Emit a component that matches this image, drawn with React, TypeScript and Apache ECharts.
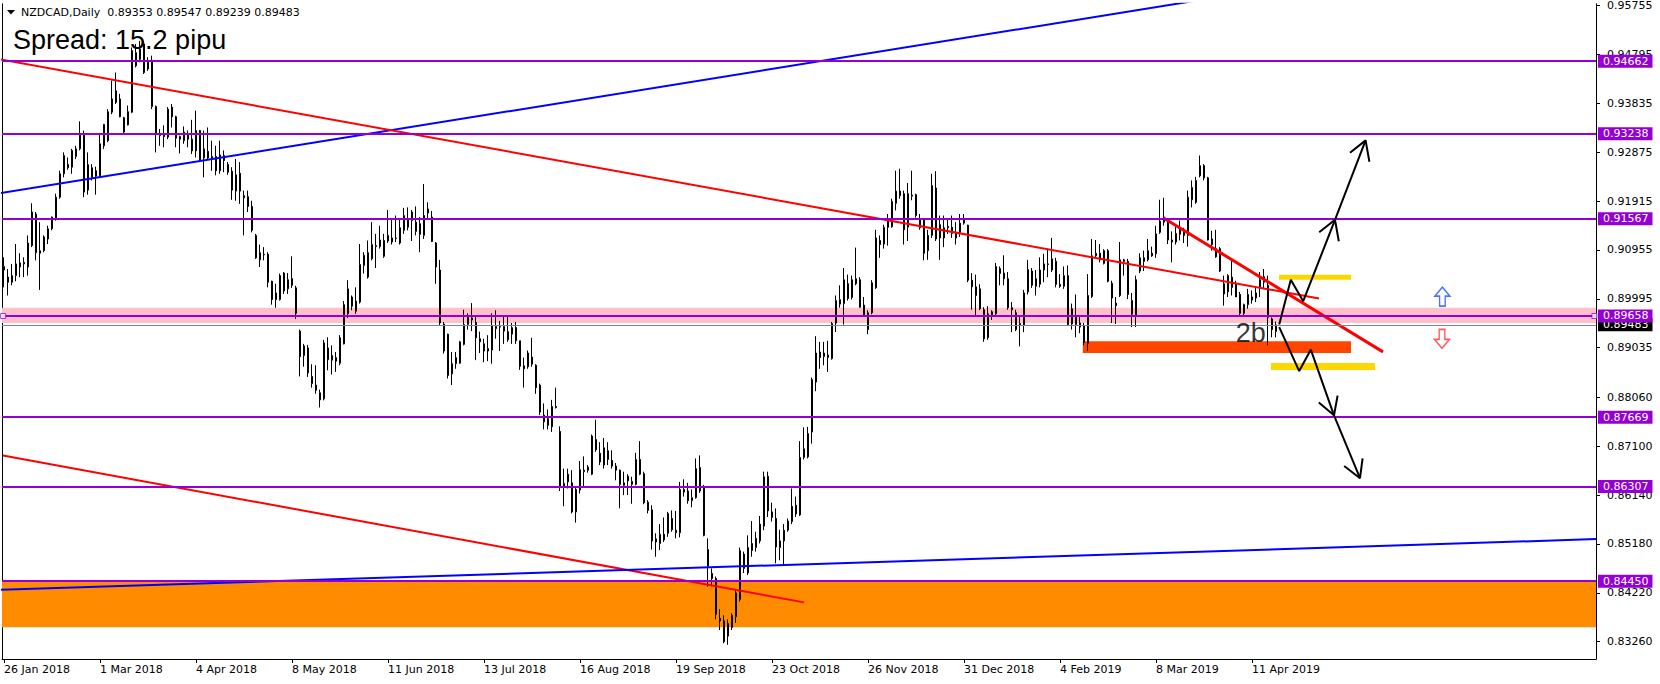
import React, { useEffect, useRef } from 'react';
import * as echarts from 'echarts';

// x-axis date labels (every 24 bars)
const dateLabels = ['26 Jan 2018', '1 Mar 2018', '4 Apr 2018', '8 May 2018', '11 Jun 2018', '13 Jul 2018', '16 Aug 2018', '19 Sep 2018', '23 Oct 2018', '26 Nov 2018', '31 Dec 2018', '4 Feb 2019', '8 Mar 2019', '11 Apr 2019'];
const dateLabelBars = [0, 24, 48, 72, 96, 120, 144, 168, 192, 216, 240, 264, 288, 312];

// right price scale labels
const priceTicks = [0.95755, 0.94795, 0.93835, 0.92875, 0.91915, 0.90955, 0.89995, 0.89035, 0.8806, 0.871, 0.8614, 0.8518, 0.8422, 0.8326];

// horizontal levels
const levels = [0.94662, 0.93238, 0.91567, 0.89658, 0.87669, 0.86307, 0.8445];
const bidPrice = 0.89483;

// daily candles [open, close, low, high]
const ohlc = [
  [0.9056, 0.9063, 0.9022, 0.9081], [0.9042, 0.9032, 0.9006, 0.9058], [0.9032, 0.9045, 0.9026, 0.9068], [0.9045, 0.9068, 0.9034, 0.9107],
  [0.9062, 0.9070, 0.9042, 0.9089], [0.9068, 0.9071, 0.9042, 0.9081], [0.9062, 0.9109, 0.9045, 0.9124], [0.9104, 0.9170, 0.9101, 0.9187],
  [0.9166, 0.9090, 0.9075, 0.9170], [0.9089, 0.9094, 0.9017, 0.9150], [0.9094, 0.9121, 0.9091, 0.9124], [0.9117, 0.9137, 0.9107, 0.9143],
  [0.9137, 0.9160, 0.9134, 0.9161], [0.9156, 0.9199, 0.9153, 0.9206], [0.9199, 0.9245, 0.9196, 0.9251], [0.9245, 0.9281, 0.9238, 0.9287],
  [0.9263, 0.9257, 0.9253, 0.9277], [0.9258, 0.9291, 0.9245, 0.9294], [0.9279, 0.9294, 0.9274, 0.9300], [0.9294, 0.9323, 0.9291, 0.9348],
  [0.9323, 0.9209, 0.9199, 0.9330], [0.9213, 0.9263, 0.9204, 0.9287], [0.9238, 0.9257, 0.9232, 0.9264], [0.9240, 0.9251, 0.9204, 0.9259],
  [0.9241, 0.9304, 0.9238, 0.9322], [0.9300, 0.9342, 0.9294, 0.9343], [0.9310, 0.9367, 0.9307, 0.9372], [0.9366, 0.9392, 0.9362, 0.9428],
  [0.9385, 0.9408, 0.9382, 0.9444], [0.9392, 0.9357, 0.9356, 0.9402], [0.9355, 0.9327, 0.9322, 0.9357], [0.9341, 0.9367, 0.9340, 0.9379],
  [0.9366, 0.9487, 0.9364, 0.9493], [0.9457, 0.9483, 0.9454, 0.9500], [0.9490, 0.9470, 0.9464, 0.9506], [0.9500, 0.9444, 0.9441, 0.9506],
  [0.9464, 0.9451, 0.9447, 0.9474], [0.9468, 0.9377, 0.9372, 0.9477], [0.9377, 0.9323, 0.9287, 0.9379], [0.9320, 0.9323, 0.9300, 0.9333],
  [0.9322, 0.9318, 0.9297, 0.9340], [0.9317, 0.9372, 0.9313, 0.9376], [0.9376, 0.9357, 0.9336, 0.9382], [0.9357, 0.9315, 0.9297, 0.9359],
  [0.9318, 0.9313, 0.9285, 0.9320], [0.9310, 0.9327, 0.9304, 0.9338], [0.9323, 0.9313, 0.9297, 0.9330], [0.9313, 0.9290, 0.9284, 0.9351],
  [0.9290, 0.9330, 0.9277, 0.9369], [0.9330, 0.9270, 0.9268, 0.9331], [0.9276, 0.9294, 0.9238, 0.9330], [0.9289, 0.9276, 0.9274, 0.9336],
  [0.9274, 0.9279, 0.9251, 0.9310], [0.9279, 0.9251, 0.9242, 0.9300], [0.9251, 0.9282, 0.9245, 0.9310], [0.9281, 0.9271, 0.9248, 0.9291],
  [0.9263, 0.9248, 0.9243, 0.9268], [0.9250, 0.9213, 0.9194, 0.9258], [0.9211, 0.9243, 0.9192, 0.9274], [0.9246, 0.9211, 0.9186, 0.9268],
  [0.9202, 0.9198, 0.9124, 0.9212], [0.9200, 0.9181, 0.9170, 0.9212], [0.9181, 0.9134, 0.9130, 0.9192], [0.9124, 0.9080, 0.9078, 0.9127],
  [0.9076, 0.9090, 0.9062, 0.9106], [0.9086, 0.9087, 0.9075, 0.9101], [0.9087, 0.9032, 0.9022, 0.9091], [0.9034, 0.8998, 0.8988, 0.9035],
  [0.8998, 0.9011, 0.8982, 0.9029], [0.8998, 0.9045, 0.8996, 0.9049], [0.9050, 0.9015, 0.9009, 0.9052], [0.9019, 0.9037, 0.9009, 0.9050],
  [0.9039, 0.9026, 0.9021, 0.9083], [0.9021, 0.8971, 0.8960, 0.9025], [0.8936, 0.8886, 0.8847, 0.8939], [0.8888, 0.8907, 0.8866, 0.8911],
  [0.8903, 0.8854, 0.8846, 0.8909], [0.8847, 0.8833, 0.8825, 0.8871], [0.8830, 0.8820, 0.8813, 0.8869], [0.8815, 0.8801, 0.8786, 0.8821],
  [0.8803, 0.8913, 0.8800, 0.8919], [0.8903, 0.8880, 0.8859, 0.8924], [0.8888, 0.8879, 0.8851, 0.8908], [0.8884, 0.8877, 0.8856, 0.8895],
  [0.8873, 0.8923, 0.8869, 0.8928], [0.8911, 0.8988, 0.8910, 0.8995], [0.8970, 0.9019, 0.8962, 0.9036], [0.9003, 0.8985, 0.8977, 0.9006],
  [0.8975, 0.8995, 0.8970, 0.9022], [0.8993, 0.9067, 0.8990, 0.9107], [0.9065, 0.9085, 0.9049, 0.9091], [0.9042, 0.9090, 0.9039, 0.9114],
  [0.9078, 0.9106, 0.9075, 0.9150], [0.9104, 0.9102, 0.9060, 0.9127], [0.9102, 0.9115, 0.9098, 0.9143], [0.9114, 0.9083, 0.9080, 0.9127],
  [0.9113, 0.9124, 0.9109, 0.9174], [0.9111, 0.9119, 0.9106, 0.9157], [0.9118, 0.9119, 0.9111, 0.9163], [0.9109, 0.9139, 0.9106, 0.9157],
  [0.9134, 0.9163, 0.9127, 0.9178], [0.9140, 0.9157, 0.9134, 0.9179], [0.9153, 0.9170, 0.9113, 0.9174], [0.9150, 0.9132, 0.9124, 0.9181],
  [0.9126, 0.9147, 0.9091, 0.9160], [0.9124, 0.9163, 0.9117, 0.9225], [0.9176, 0.9168, 0.9157, 0.9189], [0.9160, 0.9112, 0.9111, 0.9172],
  [0.9109, 0.9062, 0.9029, 0.9111], [0.9056, 0.8952, 0.8947, 0.9076], [0.8950, 0.8897, 0.8892, 0.8954], [0.8930, 0.8849, 0.8843, 0.8931],
  [0.8852, 0.8872, 0.8830, 0.8895], [0.8872, 0.8884, 0.8862, 0.8895], [0.8873, 0.8915, 0.8872, 0.8917], [0.8910, 0.8949, 0.8908, 0.8978],
  [0.8949, 0.8964, 0.8939, 0.8971], [0.8958, 0.8962, 0.8936, 0.8991], [0.8953, 0.8923, 0.8879, 0.8964], [0.8921, 0.8915, 0.8893, 0.8935],
  [0.8911, 0.8897, 0.8875, 0.8921], [0.8897, 0.8902, 0.8877, 0.8928], [0.8899, 0.8947, 0.8872, 0.8971], [0.8941, 0.8945, 0.8921, 0.8977],
  [0.8944, 0.8945, 0.8897, 0.8956], [0.8936, 0.8945, 0.8911, 0.8966], [0.8919, 0.8935, 0.8915, 0.8966], [0.8930, 0.8943, 0.8911, 0.8952],
  [0.8943, 0.8917, 0.8911, 0.8954], [0.8917, 0.8867, 0.8860, 0.8917], [0.8862, 0.8868, 0.8825, 0.8884], [0.8866, 0.8893, 0.8862, 0.8898],
  [0.8885, 0.8871, 0.8866, 0.8923], [0.8869, 0.8825, 0.8813, 0.8871], [0.8830, 0.8777, 0.8771, 0.8833], [0.8771, 0.8758, 0.8743, 0.8794],
  [0.8764, 0.8751, 0.8743, 0.8782], [0.8748, 0.8788, 0.8738, 0.8801], [0.8788, 0.8786, 0.8784, 0.8825], [0.8739, 0.8629, 0.8622, 0.8749],
  [0.8629, 0.8637, 0.8592, 0.8666], [0.8640, 0.8655, 0.8627, 0.8666], [0.8638, 0.8581, 0.8578, 0.8663], [0.8581, 0.8625, 0.8560, 0.8630],
  [0.8624, 0.8664, 0.8617, 0.8681], [0.8660, 0.8663, 0.8631, 0.8690], [0.8669, 0.8663, 0.8658, 0.8673], [0.8655, 0.8730, 0.8653, 0.8733],
  [0.8723, 0.8703, 0.8699, 0.8762], [0.8696, 0.8679, 0.8673, 0.8718], [0.8673, 0.8707, 0.8666, 0.8726], [0.8701, 0.8684, 0.8673, 0.8718],
  [0.8682, 0.8671, 0.8666, 0.8702], [0.8671, 0.8663, 0.8643, 0.8677], [0.8663, 0.8635, 0.8588, 0.8664], [0.8633, 0.8638, 0.8614, 0.8660],
  [0.8651, 0.8642, 0.8614, 0.8655], [0.8635, 0.8641, 0.8597, 0.8650], [0.8635, 0.8684, 0.8633, 0.8697], [0.8684, 0.8655, 0.8653, 0.8720],
  [0.8656, 0.8599, 0.8596, 0.8660], [0.8600, 0.8584, 0.8578, 0.8604], [0.8585, 0.8524, 0.8507, 0.8594], [0.8528, 0.8522, 0.8493, 0.8539],
  [0.8519, 0.8537, 0.8506, 0.8557], [0.8537, 0.8526, 0.8522, 0.8570], [0.8539, 0.8578, 0.8532, 0.8581], [0.8568, 0.8546, 0.8542, 0.8584],
  [0.8540, 0.8545, 0.8529, 0.8583], [0.8540, 0.8625, 0.8531, 0.8640], [0.8625, 0.8620, 0.8611, 0.8645], [0.8622, 0.8603, 0.8597, 0.8638],
  [0.8603, 0.8609, 0.8590, 0.8625], [0.8609, 0.8666, 0.8607, 0.8686], [0.8668, 0.8622, 0.8618, 0.8692], [0.8630, 0.8535, 0.8533, 0.8634],
  [0.8507, 0.8475, 0.8434, 0.8529], [0.8460, 0.8450, 0.8435, 0.8470], [0.8450, 0.8380, 0.8370, 0.8454], [0.8372, 0.8367, 0.8349, 0.8390],
  [0.8367, 0.8326, 0.8323, 0.8378], [0.8337, 0.8362, 0.8320, 0.8370], [0.8354, 0.8378, 0.8349, 0.8382], [0.8375, 0.8422, 0.8363, 0.8429],
  [0.8409, 0.8505, 0.8405, 0.8511], [0.8498, 0.8470, 0.8461, 0.8503], [0.8461, 0.8511, 0.8457, 0.8535], [0.8505, 0.8519, 0.8493, 0.8563],
  [0.8511, 0.8529, 0.8503, 0.8542], [0.8524, 0.8557, 0.8519, 0.8573], [0.8553, 0.8650, 0.8545, 0.8660], [0.8651, 0.8583, 0.8571, 0.8660],
  [0.8581, 0.8570, 0.8562, 0.8599], [0.8568, 0.8512, 0.8480, 0.8588], [0.8511, 0.8524, 0.8486, 0.8546], [0.8524, 0.8545, 0.8477, 0.8557],
  [0.8545, 0.8563, 0.8542, 0.8568], [0.8562, 0.8592, 0.8557, 0.8627], [0.8594, 0.8577, 0.8571, 0.8611], [0.8575, 0.8688, 0.8573, 0.8720],
  [0.8688, 0.8705, 0.8684, 0.8747], [0.8689, 0.8735, 0.8686, 0.8748], [0.8738, 0.8841, 0.8715, 0.8845], [0.8836, 0.8893, 0.8818, 0.8926],
  [0.8895, 0.8884, 0.8862, 0.8915], [0.8886, 0.8893, 0.8869, 0.8915], [0.8884, 0.8889, 0.8856, 0.8917], [0.8882, 0.8951, 0.8880, 0.8954],
  [0.8952, 0.8996, 0.8934, 0.9006], [0.8989, 0.8998, 0.8982, 0.9026], [0.8990, 0.9037, 0.8949, 0.9060], [0.9029, 0.9000, 0.8996, 0.9047],
  [0.9002, 0.9037, 0.8998, 0.9045], [0.9029, 0.9039, 0.9026, 0.9100], [0.9037, 0.8983, 0.8982, 0.9042], [0.8987, 0.8967, 0.8965, 0.9003],
  [0.8939, 0.8972, 0.8930, 0.8977], [0.8972, 0.9031, 0.8969, 0.9036], [0.9021, 0.9119, 0.9019, 0.9135], [0.9114, 0.9106, 0.9080, 0.9124],
  [0.9107, 0.9140, 0.9098, 0.9145], [0.9157, 0.9140, 0.9104, 0.9166], [0.9141, 0.9191, 0.9139, 0.9196], [0.9187, 0.9211, 0.9173, 0.9251],
  [0.9211, 0.9202, 0.9196, 0.9255], [0.9206, 0.9135, 0.9106, 0.9212], [0.9140, 0.9206, 0.9113, 0.9227], [0.9201, 0.9203, 0.9193, 0.9251],
  [0.9204, 0.9163, 0.9159, 0.9206], [0.9157, 0.9139, 0.9135, 0.9166], [0.9155, 0.9089, 0.9075, 0.9157], [0.9094, 0.9124, 0.9076, 0.9135],
  [0.9124, 0.9222, 0.9119, 0.9245], [0.9217, 0.9117, 0.9113, 0.9250], [0.9145, 0.9119, 0.9076, 0.9163], [0.9139, 0.9119, 0.9101, 0.9163],
  [0.9139, 0.9142, 0.9127, 0.9157], [0.9140, 0.9128, 0.9119, 0.9163], [0.9130, 0.9119, 0.9106, 0.9150], [0.9130, 0.9148, 0.9121, 0.9166],
  [0.9148, 0.9157, 0.9145, 0.9166], [0.9144, 0.9036, 0.9032, 0.9145], [0.9036, 0.9023, 0.8978, 0.9050], [0.9023, 0.9006, 0.8965, 0.9047],
  [0.9019, 0.8980, 0.8977, 0.9028], [0.8978, 0.8921, 0.8915, 0.8983], [0.8923, 0.8970, 0.8919, 0.8985], [0.8967, 0.8974, 0.8958, 0.8977],
  [0.8970, 0.9063, 0.8967, 0.9070], [0.9049, 0.9059, 0.9026, 0.9063], [0.9050, 0.9039, 0.9026, 0.9085], [0.9039, 0.8982, 0.8978, 0.9052],
  [0.8982, 0.8978, 0.8934, 0.8993], [0.8972, 0.8939, 0.8936, 0.8978], [0.8947, 0.8951, 0.8906, 0.8964], [0.8947, 0.9011, 0.8934, 0.9017],
  [0.9013, 0.9057, 0.9008, 0.9076], [0.9054, 0.9026, 0.9021, 0.9060], [0.9024, 0.9039, 0.9006, 0.9056], [0.9028, 0.9056, 0.9022, 0.9081],
  [0.9056, 0.9068, 0.9032, 0.9088], [0.9067, 0.9068, 0.9042, 0.9098], [0.9056, 0.9078, 0.9052, 0.9119], [0.9073, 0.9028, 0.9022, 0.9080],
  [0.9028, 0.9024, 0.9021, 0.9048], [0.9024, 0.9045, 0.9019, 0.9063], [0.9045, 0.8949, 0.8947, 0.9065], [0.8950, 0.8980, 0.8939, 0.8990],
  [0.8967, 0.8949, 0.8924, 0.9008], [0.8952, 0.8944, 0.8932, 0.8967], [0.8947, 0.8914, 0.8908, 0.8952], [0.8912, 0.9006, 0.8897, 0.9048],
  [0.9004, 0.9084, 0.9001, 0.9117], [0.9084, 0.9089, 0.9078, 0.9115], [0.9089, 0.9076, 0.9071, 0.9107], [0.9069, 0.9094, 0.9067, 0.9097],
  [0.9094, 0.9034, 0.9032, 0.9097], [0.9030, 0.9001, 0.8952, 0.9035], [0.8991, 0.8986, 0.8950, 0.9003], [0.9006, 0.9076, 0.9003, 0.9111],
  [0.9073, 0.9076, 0.9045, 0.9078], [0.9073, 0.9008, 0.8999, 0.9078], [0.8996, 0.8969, 0.8944, 0.9011], [0.8967, 0.9037, 0.8944, 0.9045],
  [0.9054, 0.9080, 0.9050, 0.9089], [0.9073, 0.9080, 0.9054, 0.9094], [0.9076, 0.9094, 0.9073, 0.9117], [0.9089, 0.9084, 0.9082, 0.9102],
  [0.9088, 0.9127, 0.9080, 0.9143], [0.9130, 0.9152, 0.9127, 0.9194], [0.9150, 0.9160, 0.9143, 0.9198], [0.9150, 0.9115, 0.9107, 0.9153],
  [0.9115, 0.9111, 0.9071, 0.9132], [0.9111, 0.9128, 0.9106, 0.9141], [0.9126, 0.9137, 0.9114, 0.9153], [0.9130, 0.9124, 0.9109, 0.9139],
  [0.9124, 0.9199, 0.9102, 0.9212], [0.9194, 0.9218, 0.9179, 0.9232], [0.9189, 0.9232, 0.9186, 0.9239], [0.9241, 0.9261, 0.9238, 0.9281],
  [0.9261, 0.9237, 0.9232, 0.9264], [0.9237, 0.9115, 0.9114, 0.9239], [0.9117, 0.9106, 0.9094, 0.9133], [0.9098, 0.9082, 0.9080, 0.9135],
  [0.9098, 0.9054, 0.9052, 0.9101], [0.9029, 0.9009, 0.8986, 0.9045], [0.9013, 0.9045, 0.9003, 0.9048], [0.9042, 0.9022, 0.9006, 0.9075],
  [0.9029, 0.9003, 0.9003, 0.9035], [0.9008, 0.8971, 0.8967, 0.9013], [0.8971, 0.8988, 0.8967, 0.8990], [0.8988, 0.9008, 0.8980, 0.9019],
  [0.8997, 0.9003, 0.8990, 0.9016], [0.9001, 0.9011, 0.8993, 0.9022], [0.9022, 0.9037, 0.9003, 0.9052], [0.9032, 0.9043, 0.9019, 0.9058],
  [0.9026, 0.8963, 0.8908, 0.9045], [0.8960, 0.8939, 0.8924, 0.8963], [0.89353, 0.89483, 0.89239, 0.89547],
];

// trend lines [barIndex, price]
const blueUpperLine = [[-1, 0.9207], [300, 0.95875]];
const redUpperLine = [[-1, 0.94697], [328.75, 0.90002]];
const redLowerLine = [[-0.25, 0.86917], [200, 0.84033]];
const blueLowerLine = [[-1, 0.84278], [398, 0.85276]];
const redShortLine = [[289.8, 0.91585], [344.75, 0.88953]];

// zones
const pinkZone = [0.8982, 0.89518];
const orangeZone = [0.8445, 0.83543];
const redZone = { x: [269.7, 336.75], y: [0.89159, 0.88929] };
const yellowUpper = { x: [318.75, 336.75], y: [0.90467, 0.90369] };
const yellowLower = { x: [316.75, 342.75], y: [0.88733, 0.88596] };

// projected path arrows
const upPath = [[318.8, 0.89492], [321.7, 0.90369], [324.8, 0.89949], [332.75, 0.91546], [340.4, 0.93106]];
const upHead1 = [[328.8, 0.91303], [332.75, 0.91546], [333.7, 0.91126]];
const upHead2 = [[336.5, 0.92862], [340.4, 0.93106], [341.35, 0.92686]];
const downPath = [[318.8, 0.89439], [323.8, 0.88576], [326.7, 0.88996], [332.5, 0.87707], [339, 0.86472]];
const downHead1 = [[328.7, 0.8796], [332.5, 0.87707], [333.4, 0.88094]];
const downHead2 = [[335.05, 0.86711], [339, 0.86472], [339.65, 0.8686]];

const upIcon = [359.6, 0.90036];
const downIcon = [359.5, 0.89208];
const label2b = [311.7, 0.89329];
const levelHandles = [[-0.2, 0.89658], [397.6, 0.89658]];

const priceMin = 0.82921;
const priceMax = 0.95789;

const lineSeries = (data: number[][], color: string, width: number, z: number) => ({
  type: 'line',
  data,
  symbol: 'none',
  silent: true,
  z,
  lineStyle: { color, width },
  clip: true,
});

export default function App() {
  const ref = useRef<HTMLDivElement>(null);
  useEffect(() => {
    if (!ref.current) return;
    const chart = echarts.init(ref.current, null, { renderer: 'svg' });
    const axisFont = { fontFamily: 'DejaVu Sans', fontSize: 11, color: '#000' };
    const option: any = {
      animation: false,
      backgroundColor: '#ffffff',
      grid: { left: 2, right: 64, top: 3, bottom: 25 },
      xAxis: {
        type: 'value',
        min: -0.5,
        max: 398,
        axisLine: { show: true, onZero: false, lineStyle: { color: '#000', width: 1 } },
        axisTick: { show: true, customValues: dateLabelBars, length: 4, lineStyle: { color: '#000' } },
        axisLabel: {
          ...axisFont,
          customValues: dateLabelBars,
          align: 'left',
          margin: 5,
          formatter: (v: number) => {
            const k = dateLabelBars.indexOf(Math.round(v));
            return k >= 0 ? dateLabels[k] : '';
          },
        },
        splitLine: { show: false },
      },
      yAxis: [
        {
          type: 'value',
          position: 'right',
          min: priceMin,
          max: priceMax,
          axisLine: { show: true, onZero: false, lineStyle: { color: '#000', width: 1 } },
          axisTick: { show: true, customValues: priceTicks, length: 4, lineStyle: { color: '#000' } },
          axisLabel: { ...axisFont, customValues: priceTicks, margin: 11, formatter: (v: number) => v.toFixed(5) },
          splitLine: { show: false },
        },
        {
          type: 'value',
          position: 'left',
          min: priceMin,
          max: priceMax,
          axisLine: { show: true, onZero: false, lineStyle: { color: '#000', width: 1 } },
          axisTick: { show: false },
          axisLabel: { show: false },
          splitLine: { show: false },
        },
      ],
      graphic: [
        { type: 'polygon', shape: { points: [[7, 10], [15, 10], [11, 14.5]] }, style: { fill: '#000' }, z: 100 },
        {
          type: 'text', x: 21, y: 12.9, z: 100,
          style: { text: 'NZDCAD,Daily  0.89353 0.89547 0.89239 0.89483', fontFamily: 'DejaVu Sans', fontSize: 11, fill: '#000', verticalAlign: 'middle' },
        },
        {
          type: 'text', x: 13, y: 40, z: 100,
          style: { text: 'Spread: 15.2 pipu', fontFamily: 'Liberation Sans', fontSize: 27, fill: '#000', verticalAlign: 'middle' },
        },
      ],
      series: [
        {
          type: 'line',
          data: [[-10, 0.9]],
          symbol: 'none',
          silent: true,
          z: 1,
          markArea: {
            silent: true,
            label: { show: false },
            data: [
              [{ yAxis: pinkZone[0], itemStyle: { color: '#FFC0CB', opacity: 1 } }, { yAxis: pinkZone[1] }],
              [{ yAxis: orangeZone[0], itemStyle: { color: '#FF8C00', opacity: 1 } }, { yAxis: orangeZone[1] }],
              [{ xAxis: redZone.x[0], yAxis: redZone.y[0], itemStyle: { color: '#FF4500', opacity: 1 } }, { xAxis: redZone.x[1], yAxis: redZone.y[1] }],
              [{ xAxis: yellowUpper.x[0], yAxis: yellowUpper.y[0], itemStyle: { color: '#FFD700', opacity: 1 } }, { xAxis: yellowUpper.x[1], yAxis: yellowUpper.y[1] }],
              [{ xAxis: yellowLower.x[0], yAxis: yellowLower.y[0], itemStyle: { color: '#FFD700', opacity: 1 } }, { xAxis: yellowLower.x[1], yAxis: yellowLower.y[1] }],
            ],
          },
        },
        {
          type: 'line',
          data: [[-10, 0.9]],
          symbol: 'none',
          silent: true,
          z: 2,
          markLine: {
            silent: true,
            precision: 5,
            symbol: ['none', 'none'],
            lineStyle: { color: '#778899', width: 1, type: 'solid' },
            label: {
              show: true, position: 'end', distance: 2,
              formatter: () => bidPrice.toFixed(5),
              backgroundColor: '#000', color: '#fff', padding: [1, 4, 1, 5],
              fontFamily: 'DejaVu Sans', fontSize: 11,
            },
            data: [{ yAxis: bidPrice }],
          },
        },
        {
          type: 'candlestick',
          z: 3,
          silent: true,
          barWidth: 2,
          data: ohlc.map((d, i) => [i, d[0], d[1], d[2], d[3]]),
          itemStyle: { color: '#ffffff', color0: '#000000', borderColor: '#000000', borderColor0: '#000000', borderWidth: 1 },
        },
        lineSeries(blueUpperLine, '#0000FF', 2, 4),
        lineSeries(redUpperLine, '#FF0000', 2, 4),
        lineSeries(redLowerLine, '#FF0000', 2, 4),
        lineSeries(blueLowerLine, '#0000FF', 2, 4),
        lineSeries(redShortLine, '#FF0000', 3, 4),
        {
          type: 'line',
          data: [[-10, 0.9]],
          symbol: 'none',
          silent: true,
          z: 5,
          markLine: {
            silent: true,
            precision: 5,
            symbol: ['none', 'none'],
            lineStyle: { color: '#9400D3', width: 2, type: 'solid' },
            label: {
              show: true, position: 'end', distance: 2,
              formatter: (p: any) => Number(p.value).toFixed(5),
              backgroundColor: '#9400D3', color: '#fff', padding: [1, 4, 1, 5],
              fontFamily: 'DejaVu Sans', fontSize: 11,
            },
            data: levels.map((v) => ({ yAxis: v })),
          },
        },
        {
          type: 'scatter',
          z: 6,
          silent: true,
          data: levelHandles,
          symbol: 'rect',
          symbolSize: 5,
          itemStyle: { color: '#ffffff', borderColor: '#9400D3', borderWidth: 1 },
        },
        lineSeries(upPath, '#000', 2, 6),
        lineSeries(upHead1, '#000', 2, 6),
        lineSeries(upHead2, '#000', 2, 6),
        lineSeries(downPath, '#000', 2, 6),
        lineSeries(downHead1, '#000', 2, 6),
        lineSeries(downHead2, '#000', 2, 6),
        {
          type: 'scatter',
          z: 7,
          silent: true,
          data: [upIcon],
          symbol: 'path://M8,0 L16,9 L11,9 L11,19 L5,19 L5,9 L0,9 Z',
          symbolSize: [15, 19],
          itemStyle: { color: '#ffffff', borderColor: '#1E50FF', borderWidth: 1.5 },
        },
        {
          type: 'scatter',
          z: 7,
          silent: true,
          data: [downIcon],
          symbol: 'path://M5,0 L11,0 L11,10 L16,10 L8,19 L0,10 L5,10 Z',
          symbolSize: [15, 19],
          itemStyle: { color: '#ffffff', borderColor: '#FF3030', borderWidth: 1.5 },
        },
        {
          type: 'scatter',
          z: 7,
          silent: true,
          data: [label2b],
          symbolSize: 1,
          itemStyle: { color: 'rgba(0,0,0,0)' },
          label: {
            show: true, position: 'inside', formatter: '2b',
            fontFamily: 'Liberation Sans', fontSize: 27, color: '#000',
          },
        },
      ],
    };
    chart.setOption(option);
    return () => chart.dispose();
  }, []);
  return <div ref={ref} style={{ position: 'absolute', left: 0, top: 0, width: 1660, height: 684 }} />;
}
